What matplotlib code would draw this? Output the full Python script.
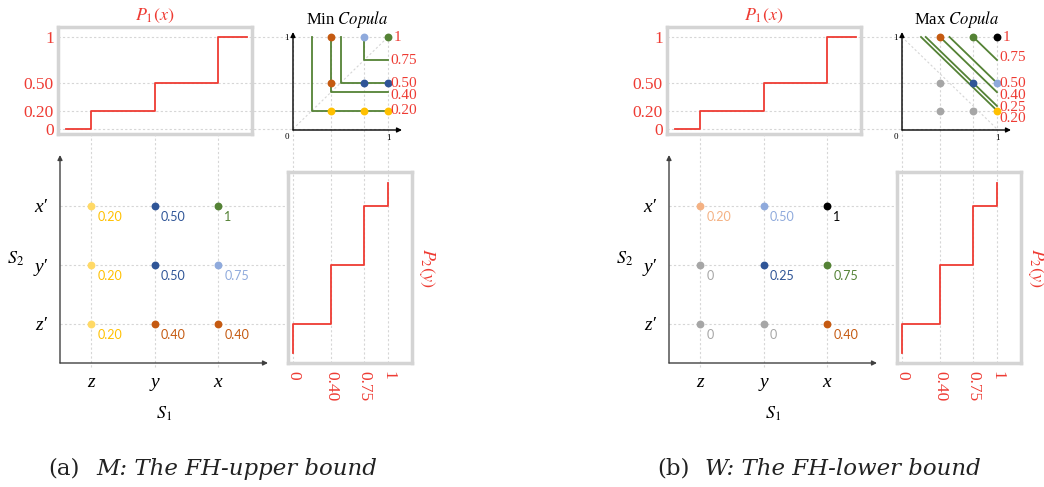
import matplotlib.pyplot as plt

plt.rcParams['font.family'] = 'Liberation Serif'
plt.rcParams['mathtext.fontset'] = 'stix'

# ---- data ----
s1_labels = ['z', 'y', 'x']
s2_labels = ["z′", "y′", "x′"]
cols = [1, 2, 3]
rows = [1, 2, 3]
p1_vals = [0.20, 0.50, 1]          # P1 at z, y, x
p2_vals = [0.40, 0.75, 1]          # P2 at z', y', x'
# joint values, rows z', y', x'  / columns z, y, x
min_grid = [[0.20, 0.40, 0.40],
            [0.20, 0.50, 0.75],
            [0.20, 0.50, 1]]
max_grid = [[0, 0, 0.40],
            [0, 0.25, 0.75],
            [0.20, 0.50, 1]]
min_levels = [0.20, 0.40, 0.50, 0.75]
max_levels = [0.20, 0.25, 0.40, 0.50, 0.75]

RED = '#EE3B33'
GREEN = '#548235'
NAVY = '#2F5597'
BROWN = '#C55A11'
LBLUE = '#8FAADC'
GREY = '#A6A6A6'
GRIDC = '#D6D6D6'
FRAME = '#D4D4D4'

min_pt = {0.2: '#FFD966', 0.4: BROWN, 0.5: NAVY, 0.75: LBLUE, 1: GREEN}
min_txt = {0.2: '#FFC000', 0.4: BROWN, 0.5: NAVY, 0.75: LBLUE, 1: GREEN}
min_cop = {0.2: '#FFC000', 0.4: BROWN, 0.5: NAVY, 0.75: LBLUE, 1: GREEN}
max_pt = {0: GREY, 0.2: '#F4B183', 0.25: NAVY, 0.4: BROWN, 0.5: LBLUE, 0.75: GREEN, 1: 'black'}
max_txt = max_pt
max_cop = {0: GREY, 0.2: '#FFC000', 0.25: NAVY, 0.4: BROWN, 0.5: LBLUE, 0.75: GREEN, 1: 'black'}

W, H = 1044, 487
fig = plt.figure(figsize=(W / 100, H / 100), dpi=100)


def px_axes(x0, y0, x1, y1):
    ax = fig.add_axes([x0 / W, 1 - y1 / H, (x1 - x0) / W, (y1 - y0) / H])
    ax.set_facecolor('none')
    return ax


def fmt(v):
    return '%g' % v if v in (0, 1) else '%.2f' % v


grid_kw = dict(color=GRIDC, lw=0.8, ls=(0, (2, 2)), clip_on=False, zorder=0)


def arrows(ax, color):
    kw = dict(arrowstyle='-|>', color=color, lw=1.0, mutation_scale=7,
              shrinkA=0, shrinkB=0)
    ax.annotate('', xy=(1, 0), xytext=(0, 0), xycoords='axes fraction',
                arrowprops=kw)
    ax.annotate('', xy=(0, 1), xytext=(0, 0), xycoords='axes fraction',
                arrowprops=kw)
    for s in ax.spines.values():
        s.set_visible(False)


def panel(dx, grid, pt_c, txt_c, cop_c, levels, kind, lab_off, caption):
    # pixel mappings (column/row positions, copula u/v)
    cx0, cs = 27.5 + dx, 63.5
    ry0, rs = 383, 59
    ux0, us = 293 + dx, 95
    vy0, vs = 129, 92

    # P1 box
    p1 = px_axes(58 + dx, 27, 252 + dx, 134)
    p1.set_xlim((58 + dx - cx0) / cs, (252 + dx - cx0) / cs)
    p1.set_ylim((vy0 - 134) / vs, (vy0 - 27) / vs)
    p1.plot([0.6] + cols + [3.45], [0] + p1_vals + [p1_vals[-1]],
            drawstyle='steps-post', color=RED, lw=1.3, zorder=3)
    for v in [0] + p1_vals:
        p1.axhline(v, 0, (ux0 + us - 58 - dx) / 194, **grid_kw)
    p1.set_xticks([])
    p1.set_yticks([0] + p1_vals, [fmt(v) for v in [0] + p1_vals])
    p1.tick_params(axis='y', length=0, pad=3, labelsize=12.5, labelcolor=RED)
    for s in p1.spines.values():
        s.set_color(FRAME)
        s.set_linewidth(2.5)
    p1.set_title('$P_1(x)$', color=RED, fontsize=13, pad=5)

    # joint scatter
    sc = px_axes(60 + dx, 155, 268 + dx, 363)
    sc.set_xlim((60 + dx - cx0) / cs, (268 + dx - cx0) / cs)
    sc.set_ylim((ry0 - 363) / rs, (ry0 - 155) / rs)
    for c in cols:
        sc.axvline(c, -4 / 208, (363 - 134) / 208, **grid_kw)
    for r in rows:
        sc.axhline(r, 0, (288 - 60) / 208, **grid_kw)
    for j, r in enumerate(rows):
        for i, c in enumerate(cols):
            val = grid[j][i]
            sc.scatter(c, r, s=32, color=pt_c[val], zorder=3, linewidths=0)
            sc.annotate(fmt(val), (c, r), xytext=(4.5, -8),
                        textcoords='offset points', ha='left', va='center',
                        fontsize=9, family='Lato', color=txt_c[val])
    arrows(sc, '#404040')
    sc.set_xticks(cols, s1_labels)
    sc.set_yticks(rows, s2_labels)
    sc.tick_params(length=0, labelsize=14)
    for t in sc.get_xticklabels() + sc.get_yticklabels():
        t.set_fontstyle('italic')
    sc.tick_params(axis='x', pad=8)
    sc.tick_params(axis='y', pad=9)
    sc.set_xlabel('$S_1$', fontsize=13, labelpad=10)
    sc.set_ylabel('$S_2$', fontsize=13, rotation=0, labelpad=14, va='center')

    # copula
    cop = px_axes(ux0, 32, ux0 + 109, 130)
    cop.set_xlim(0, 109 / us)
    cop.set_ylim((vy0 - 130) / vs, (vy0 - 32) / vs)
    for u in [0] + p2_vals:
        cop.axvline(u, (130 - 363) / 98, (130 - 37) / 98, **grid_kw)
    if kind == 'min':
        cop.plot([0, 1], [0, 1], color=GRIDC, lw=0.8, ls=(0, (2, 2)))
        for c in levels:
            cop.plot([c, c, 1], [1, c, c], color=GREEN, lw=1.3, zorder=2)
        title = 'Min $\\mathit{Copula}$'
    else:
        cop.plot([0, 1], [1, 0], color=GRIDC, lw=0.8, ls=(0, (2, 2)))
        for c in levels:
            cop.plot([c, 1], [1, c], color=GREEN, lw=1.3, zorder=2)
        title = 'Max $\\mathit{Copula}$'
    for i, v in enumerate(p1_vals):
        for j, u in enumerate(p2_vals):
            cop.scatter(u, v, s=32, color=cop_c[grid[j][i]], zorder=3,
                        linewidths=0)
    for c in levels + [1]:
        cop.annotate(fmt(c), (1, c),
                     xytext=(4 if c == 1 else 1.5, lab_off.get(c, 0)),
                     textcoords='offset points', ha='left', va='center',
                     fontsize=11, color=RED, annotation_clip=False)
    arrows(cop, 'black')
    cop.set_xticks([1], ['1'])
    cop.set_yticks([1], ['1'])
    cop.tick_params(length=0, labelsize=6.5, pad=3)
    cop.annotate('0', (0, 0), xytext=(-3, -3), textcoords='offset points',
                 ha='right', va='top', fontsize=6.5)
    cop.set_title(title, fontsize=12, pad=6)

    # P2 box
    p2 = px_axes(288 + dx, 172, 412 + dx, 363)
    p2.set_xlim((288 + dx - ux0) / us, (412 + dx - ux0) / us)
    p2.set_ylim((ry0 - 363) / rs, (ry0 - 172) / rs)
    p2.plot([0] + p2_vals + [p2_vals[-1]], [0.51] + rows + [3.39],
            drawstyle='steps-pre', color=RED, lw=1.3, zorder=3)
    p2.set_yticks([])
    p2.set_xticks([0] + p2_vals, [fmt(v) for v in [0] + p2_vals])
    p2.tick_params(axis='x', length=0, pad=6, labelsize=12.5, labelcolor=RED,
                   labelrotation=270)
    for s in p2.spines.values():
        s.set_color(FRAME)
        s.set_linewidth(2.5)
    p2.text(1.12, 0.5, '$P_2(y)$', transform=p2.transAxes, rotation=270,
            ha='center', va='center', color=RED, fontsize=13)

    # caption
    fig.text((48 + dx) / W, 1 - 469 / H, caption[0], fontsize=16.5,
             family='DejaVu Serif', va='center', ha='left', color='#222222')
    fig.text((96 + dx) / W, 1 - 469 / H, caption[1], fontsize=16.5,
             family='DejaVu Serif', style='italic', va='center', ha='left',
             color='#222222')


panel(0, min_grid, min_pt, min_txt, min_cop, min_levels, 'min',
      {0.4: -2.5}, ('(a)', 'M: The FH-upper bound'))
panel(609, max_grid, max_pt, max_txt, max_cop, max_levels, 'max',
      {0.75: 1.5, 0.4: -2.5, 0.2: -6, 0.25: -1}, ('(b)', 'W: The FH-lower bound'))

fig.savefig('out.png', dpi=100)
